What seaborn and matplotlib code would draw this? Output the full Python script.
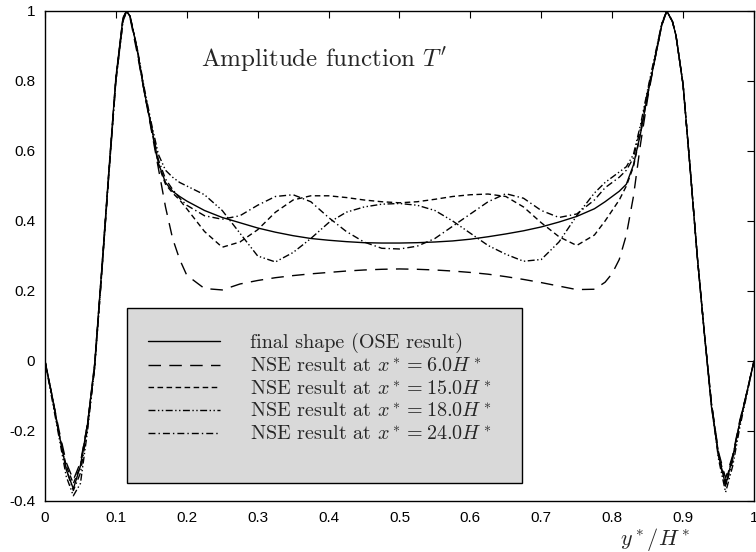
import matplotlib
matplotlib.use("Agg")
import matplotlib.pyplot as plt
from matplotlib import patches
import seaborn as sns
import pandas as pd

# wall-normal position y*/H*
y_pos = [0, .01, .02, .03, .04, .05, .06, .07, .08, .09, .10, .11, .115, .12, .13, .14, .15, .16, .17, .18, .19, .20,
         .225, .25, .275, .30, .325, .35, .375, .40, .425, .45, .475, .50, .525, .55, .575, .60, .625, .65, .675, .70,
         .725, .75, .775,
         .79, .80, .81, .82, .83, .84, .85, .86, .87, .877, .885, .89, .90, .91, .92, .93, .94, .95, .96, .97, .98,
         .99, 1.0]

# amplitude T'
ose_final = [0, -0.10, -0.21, -0.31, -0.365, -0.30, -0.18, -0.01, 0.26, 0.54, 0.81, 0.98, 1.0, 0.985, 0.89, 0.77,
             0.67, 0.565, 0.51, 0.485, 0.47, 0.457,
             0.43, 0.41, 0.395, 0.38, 0.368, 0.358, 0.35, 0.345, 0.341, 0.338, 0.337, 0.337, 0.338, 0.34, 0.343,
             0.348, 0.355, 0.363, 0.372, 0.383, 0.397, 0.413, 0.435,
             0.455, 0.47, 0.485, 0.505, 0.56, 0.65, 0.76, 0.86, 0.96, 1.0, 0.97, 0.93, 0.79, 0.55, 0.30, 0.08,
             -0.13, -0.27, -0.355, -0.275, -0.175, -0.09, 0]

nse_6 = [0, -0.10, -0.20, -0.29, -0.34, -0.29, -0.18, -0.02, 0.25, 0.53, 0.80, 0.97, 1.0, 0.98, 0.88, 0.77,
         0.66, 0.55, 0.44, 0.35, 0.29, 0.245,
         0.207, 0.203, 0.22, 0.23, 0.238, 0.244, 0.249, 0.253, 0.257, 0.26, 0.262, 0.263, 0.262, 0.26, 0.257,
         0.253, 0.248, 0.241, 0.233, 0.224, 0.214, 0.204, 0.205,
         0.225, 0.25, 0.29, 0.36, 0.47, 0.62, 0.75, 0.86, 0.96, 1.0, 0.97, 0.93, 0.79, 0.55, 0.30, 0.08,
         -0.12, -0.26, -0.335, -0.27, -0.17, -0.09, 0]

nse_15 = [0, -0.10, -0.21, -0.30, -0.35, -0.30, -0.18, -0.01, 0.26, 0.54, 0.81, 0.98, 1.0, 0.985, 0.89, 0.77,
          0.665, 0.56, 0.505, 0.48, 0.46, 0.435,
          0.37, 0.325, 0.34, 0.375, 0.425, 0.46, 0.472, 0.472, 0.467, 0.46, 0.455, 0.452, 0.455, 0.462, 0.47,
          0.475, 0.477, 0.47, 0.44, 0.395, 0.355, 0.33, 0.36,
          0.40, 0.43, 0.46, 0.50, 0.555, 0.65, 0.76, 0.86, 0.96, 1.0, 0.97, 0.93, 0.79, 0.55, 0.30, 0.08,
          -0.12, -0.265, -0.345, -0.275, -0.175, -0.09, 0]

nse_18 = [0, -0.11, -0.22, -0.33, -0.385, -0.35, -0.20, -0.02, 0.25, 0.53, 0.80, 0.97, 1.0, 0.985, 0.895, 0.78,
          0.68, 0.59, 0.545, 0.525, 0.51, 0.50,
          0.475, 0.43, 0.365, 0.30, 0.283, 0.31, 0.35, 0.395, 0.425, 0.44, 0.448, 0.45, 0.445, 0.43, 0.40,
          0.365, 0.33, 0.305, 0.285, 0.29, 0.34, 0.415, 0.48,
          0.51, 0.525, 0.54, 0.555, 0.59, 0.675, 0.775, 0.87, 0.965, 1.0, 0.97, 0.93, 0.79, 0.55, 0.30, 0.08,
          -0.125, -0.28, -0.375, -0.30, -0.19, -0.095, 0]

nse_24 = [0, -0.10, -0.21, -0.31, -0.37, -0.32, -0.19, -0.02, 0.25, 0.535, 0.80, 0.975, 1.0, 0.985, 0.89, 0.775,
          0.67, 0.575, 0.52, 0.49, 0.465, 0.445,
          0.415, 0.405, 0.415, 0.445, 0.47, 0.475, 0.455, 0.41, 0.37, 0.34, 0.322, 0.32, 0.328, 0.35, 0.385,
          0.42, 0.455, 0.478, 0.465, 0.43, 0.41, 0.42, 0.46,
          0.495, 0.51, 0.525, 0.545, 0.58, 0.665, 0.77, 0.865, 0.962, 1.0, 0.97, 0.93, 0.79, 0.55, 0.30, 0.08,
          -0.12, -0.27, -0.36, -0.285, -0.18, -0.09, 0]

case_labels = ["final shape (OSE result)",
               r"NSE result at $x^* = 6.0H^*$",
               r"NSE result at $x^* = 15.0H^*$",
               r"NSE result at $x^* = 18.0H^*$",
               r"NSE result at $x^* = 24.0H^*$"]

x_ticks = [0, 0.1, 0.2, 0.3, 0.4, 0.5, 0.6, 0.7, 0.8, 0.9, 1]
x_ticklabels = ["0", "0.1", "0.2", "0.3", "0.4", "0.5", "0.6", "0.7", "0.8", "0.9", "1"]
y_ticks = [-0.4, -0.2, 0, 0.2, 0.4, 0.6, 0.8, 1]
y_ticklabels = ["-0.4", "-0.2", "0", "0.2", "0.4", "0.6", "0.8", "1"]

frames = []
for lab, vals in zip(case_labels, [ose_final, nse_6, nse_15, nse_18, nse_24]):
    frames.append(pd.DataFrame({"y_pos": y_pos, "T": vals, "case": lab}))
df = pd.concat(frames, ignore_index=True)

sns.set_style("white")
plt.rcParams["mathtext.fontset"] = "cm"
plt.rcParams["axes.unicode_minus"] = False

dash_map = {case_labels[0]: "",
            case_labels[1]: (9, 6),
            case_labels[2]: (4, 2.5),
            case_labels[3]: (5, 1.8, 1, 1.8, 1, 1.8),
            case_labels[4]: (5, 2.2, 1, 2.2)}

fig = plt.figure(figsize=(7.56, 5.52), dpi=100)
ax = fig.add_axes([0.0595, 0.0924, 0.9378, 0.8877])

sns.lineplot(data=df, x="y_pos", y="T", hue="case", style="case", dashes=dash_map,
             palette={c: "black" for c in case_labels}, estimator=None, sort=False,
             linewidth=1.0, legend=False, ax=ax)

ax.set_xlim(0, 1)
ax.set_ylim(-0.4, 1)
ax.set_xticks(x_ticks)
ax.set_xticklabels(x_ticklabels)
ax.set_yticks(y_ticks)
ax.set_yticklabels(y_ticklabels)
ax.set_xlabel("")
ax.set_ylabel("")
for lbl in ax.get_xticklabels() + ax.get_yticklabels():
    lbl.set_fontfamily("Liberation Sans")
    lbl.set_fontsize(11)
ax.tick_params(direction="in", length=5, width=0.8, top=True, right=True, colors="black", pad=7)
for sp in ax.spines.values():
    sp.set_color("black")
    sp.set_linewidth(1.0)

# legend box
box = patches.Rectangle((0.1157, 0.037), 0.557, 0.357, transform=ax.transAxes,
                        facecolor="#d9d9d9", edgecolor="black", linewidth=1.0, zorder=3)
ax.add_patch(box)
handles = ax.get_lines()[:5]
leg = ax.legend(handles, case_labels, loc="upper left", bbox_to_anchor=(0.145, 0.343),
                frameon=False, handlelength=3.6, handletextpad=1.5, labelspacing=0.2,
                borderpad=0, borderaxespad=0, prop={"family": "cmr10", "size": 14.5})
leg.set_zorder(4)

ax.text(0.22, 0.86, r"Amplitude function $T'$", fontfamily="cmr10", fontsize=18, va="center")
fig.text(0.867, 0.022, r"$y^*/H^*$", fontsize=16, ha="center", va="center")

fig.savefig("out.png", dpi=100)
